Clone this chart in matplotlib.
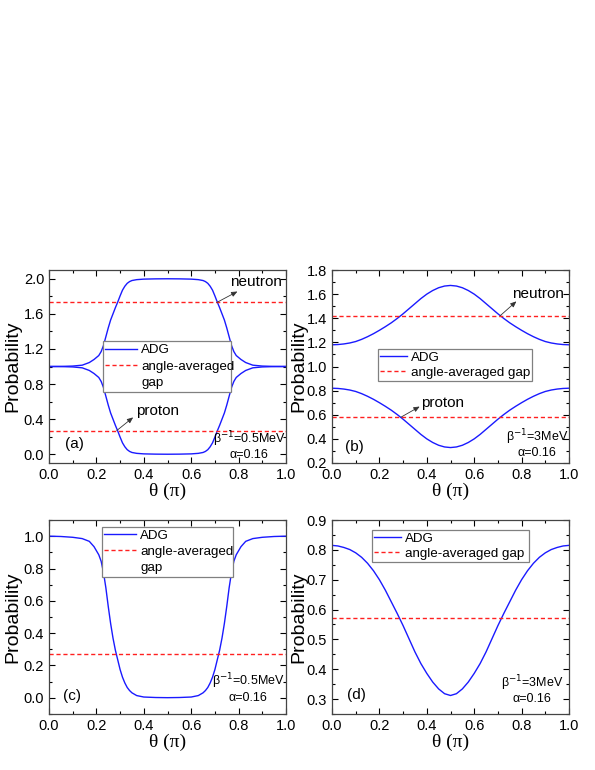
import matplotlib
matplotlib.use('Agg')
import matplotlib.pyplot as plt
from matplotlib.lines import Line2D
from matplotlib.ticker import MultipleLocator

plt.rcParams['font.family'] = ['Liberation Sans', 'DejaVu Sans']

# theta grid (units of pi) for the low temperature panels (a) and (c)
theta_ac = [0.00, 0.05, 0.10, 0.14, 0.17, 0.19, 0.21, 0.22, 0.23, 0.24, 0.25, 0.26,
            0.27, 0.28, 0.29, 0.30, 0.31, 0.32, 0.33, 0.34, 0.35, 0.37, 0.40, 0.45,
            0.50, 0.55, 0.60, 0.63, 0.65, 0.66, 0.67, 0.68, 0.69, 0.70, 0.71, 0.72,
            0.73, 0.74, 0.75, 0.76, 0.77, 0.78, 0.79, 0.81, 0.83, 0.86, 0.90, 0.95, 1.00]

neutron_a = [1.000, 1.001, 1.005, 1.015, 1.045, 1.080, 1.125, 1.170, 1.240, 1.340, 1.440, 1.530,
             1.600, 1.670, 1.735, 1.805, 1.870, 1.915, 1.948, 1.968, 1.980, 1.990, 1.996, 1.999,
             2.000, 1.999, 1.996, 1.990, 1.980, 1.968, 1.948, 1.915, 1.870, 1.805, 1.735, 1.670,
             1.600, 1.530, 1.440, 1.340, 1.240, 1.170, 1.125, 1.080, 1.045, 1.015, 1.005, 1.001, 1.000]
proton_a = [1.000, 0.999, 0.995, 0.985, 0.955, 0.920, 0.875, 0.830, 0.760, 0.660, 0.560, 0.470,
            0.400, 0.330, 0.265, 0.195, 0.130, 0.085, 0.052, 0.032, 0.020, 0.010, 0.004, 0.001,
            0.000, 0.001, 0.004, 0.010, 0.020, 0.032, 0.052, 0.085, 0.130, 0.195, 0.265, 0.330,
            0.400, 0.470, 0.560, 0.660, 0.760, 0.830, 0.875, 0.920, 0.955, 0.985, 0.995, 0.999, 1.000]
curve_c = [1.000, 0.998, 0.993, 0.985, 0.968, 0.935, 0.885, 0.845, 0.775, 0.680, 0.565, 0.460,
           0.370, 0.295, 0.235, 0.175, 0.128, 0.092, 0.064, 0.045, 0.031, 0.014, 0.005, 0.002,
           0.001, 0.002, 0.005, 0.014, 0.031, 0.045, 0.064, 0.092, 0.128, 0.175, 0.235, 0.295,
           0.370, 0.460, 0.565, 0.680, 0.775, 0.845, 0.885, 0.935, 0.968, 0.985, 0.993, 0.998, 1.000]

# theta grid for the high temperature panels (b) and (d)
theta_bd = [0.000, 0.025, 0.050, 0.075, 0.100, 0.125, 0.150, 0.175, 0.200, 0.225, 0.250,
            0.275, 0.300, 0.325, 0.350, 0.375, 0.400, 0.425, 0.450, 0.475, 0.500,
            0.525, 0.550, 0.575, 0.600, 0.625, 0.650, 0.675, 0.700, 0.725, 0.750,
            0.775, 0.800, 0.825, 0.850, 0.875, 0.900, 0.925, 0.950, 0.975, 1.000]

neutron_b = [1.180, 1.182, 1.187, 1.195, 1.207, 1.225, 1.247, 1.272, 1.300, 1.330, 1.362,
             1.398, 1.437, 1.479, 1.521, 1.563, 1.600, 1.630, 1.653, 1.667, 1.672,
             1.667, 1.653, 1.630, 1.600, 1.563, 1.521, 1.479, 1.437, 1.398, 1.362,
             1.330, 1.300, 1.272, 1.247, 1.225, 1.207, 1.195, 1.187, 1.182, 1.180]
proton_b = [0.820, 0.818, 0.813, 0.805, 0.793, 0.775, 0.753, 0.728, 0.700, 0.670, 0.638,
            0.602, 0.563, 0.521, 0.479, 0.437, 0.400, 0.370, 0.347, 0.333, 0.328,
            0.333, 0.347, 0.370, 0.400, 0.437, 0.479, 0.521, 0.563, 0.602, 0.638,
            0.670, 0.700, 0.728, 0.753, 0.775, 0.793, 0.805, 0.813, 0.818, 0.820]
curve_d = [0.815, 0.813, 0.808, 0.801, 0.790, 0.775, 0.755, 0.730, 0.700, 0.665, 0.626,
           0.587, 0.546, 0.502, 0.458, 0.419, 0.386, 0.357, 0.334, 0.318, 0.312,
           0.318, 0.334, 0.357, 0.386, 0.419, 0.458, 0.502, 0.546, 0.587, 0.626,
           0.665, 0.700, 0.730, 0.755, 0.775, 0.790, 0.801, 0.808, 0.813, 0.815]

# angle-averaged gap values
avg_a = [1.73, 0.27]
avg_b = [1.42, 0.58]
avg_c = 0.272
avg_d = 0.57

blue = '#1a1aff'
red = '#ff2020'
dash = (0, (3, 2))

fig = plt.figure(figsize=(5.95, 7.7), dpi=100)
W = 237 / 595
ax_a = fig.add_axes([49 / 595, 1 - 463 / 770, W, 193 / 770])
ax_b = fig.add_axes([332 / 595, 1 - 463 / 770, W, 193 / 770])
ax_c = fig.add_axes([49 / 595, 1 - 714 / 770, W, 194 / 770])
ax_d = fig.add_axes([332 / 595, 1 - 714 / 770, W, 194 / 770])


def style(ax, ylim, major, minor, ylab_x):
    ax.set_xlim(0, 1)
    ax.set_ylim(*ylim)
    ax.xaxis.set_major_locator(MultipleLocator(0.2))
    ax.xaxis.set_minor_locator(MultipleLocator(0.1))
    ax.yaxis.set_major_locator(MultipleLocator(major))
    ax.yaxis.set_minor_locator(MultipleLocator(minor))
    ax.tick_params(which='both', direction='in', top=True, right=True, labelsize=10.5)
    ax.tick_params(which='major', length=4, width=0.8)
    ax.tick_params(which='minor', length=2, width=0.8)
    for s in ax.spines.values():
        s.set_linewidth(0.9)
        s.set_color('#444444')
    ax.set_xlabel('θ (π)', fontsize=14, family=['Liberation Serif', 'DejaVu Serif'])
    ax.xaxis.set_label_coords(0.5, -0.1)
    ax.set_ylabel('Probability', fontsize=14)
    ax.yaxis.set_label_coords(ylab_x, 0.5)


def legend(ax, box, two_line):
    h = [Line2D([], [], color=blue, lw=1),
         Line2D([], [], color=red, lw=1, ls=dash)]
    if two_line:
        h.append(Line2D([], [], ls='none'))
        labels = ['ADG', 'angle-averaged', 'gap']
        hl, sp = 2.4, 0.3
    else:
        labels = ['ADG', 'angle-averaged gap']
        hl, sp = 2.0, 0.2
    leg = ax.legend(h, labels, loc='upper left', bbox_to_anchor=box, mode='expand',
                    fontsize=9.6, handlelength=hl, handletextpad=0.3, labelspacing=sp,
                    borderpad=0.2, borderaxespad=0, fancybox=False, framealpha=1,
                    edgecolor='#808080')
    leg.get_frame().set_linewidth(0.9)


def params(ax, x, y1, y2, beta):
    ax.text(x, y1, 'β$^{-1}$=' + beta, transform=ax.transAxes, ha='center', va='center', fontsize=9)
    ax.text(x, y2, 'α=0.16', transform=ax.transAxes, ha='center', va='center', fontsize=9)


def arrow(ax, start, end):
    ax.annotate('', xy=end, xytext=start,
                arrowprops=dict(arrowstyle='-|>,head_length=0.35,head_width=0.15',
                                color='#333333', lw=0.6, shrinkA=0, shrinkB=0))


# (a)
ax_a.plot(theta_ac, neutron_a, color=blue, lw=1)
ax_a.plot(theta_ac, proton_a, color=blue, lw=1)
for v in avg_a:
    ax_a.axhline(v, color=red, lw=1, ls=dash)
style(ax_a, (-0.1, 2.1), 0.4, 0.2, -0.115)
legend(ax_a, (0.227, 0.63, 0.541, 0.0), True)
ax_a.text(0.765, 1.96, 'neutron', fontsize=11, va='center')
arrow(ax_a, (0.708, 1.73), (0.795, 1.855))
ax_a.text(0.367, 0.49, 'proton', fontsize=11, va='center')
arrow(ax_a, (0.286, 0.27), (0.355, 0.42))
ax_a.text(0.068, 0.10, '(a)', transform=ax_a.transAxes, fontsize=11, va='center')
params(ax_a, 0.845, 0.125, 0.04, '0.5MeV')

# (b)
ax_b.plot(theta_bd, neutron_b, color=blue, lw=1)
ax_b.plot(theta_bd, proton_b, color=blue, lw=1)
for v in avg_b:
    ax_b.axhline(v, color=red, lw=1, ls=dash)
style(ax_b, (0.2, 1.8), 0.2, 0.1, -0.105)
legend(ax_b, (0.193, 0.592, 0.652, 0.0), False)
ax_b.text(0.758, 1.60, 'neutron', fontsize=11, va='center')
arrow(ax_b, (0.709, 1.42), (0.778, 1.54))
ax_b.text(0.376, 0.70, 'proton', fontsize=11, va='center')
arrow(ax_b, (0.291, 0.58), (0.37, 0.668))
ax_b.text(0.055, 0.085, '(b)', transform=ax_b.transAxes, fontsize=11, va='center')
params(ax_b, 0.865, 0.135, 0.05, '3MeV')

# (c)
ax_c.plot(theta_ac, curve_c, color=blue, lw=1)
ax_c.axhline(avg_c, color=red, lw=1, ls=dash)
style(ax_c, (-0.1, 1.1), 0.2, 0.1, -0.115)
legend(ax_c, (0.222, 0.966, 0.556, 0.0), True)
ax_c.text(0.06, 0.093, '(c)', transform=ax_c.transAxes, fontsize=11, va='center')
params(ax_c, 0.84, 0.168, 0.085, '0.5MeV')

# (d)
ax_d.plot(theta_bd, curve_d, color=blue, lw=1)
ax_d.axhline(avg_d, color=red, lw=1, ls=dash)
style(ax_d, (0.25, 0.9), 0.1, 0.05, -0.105)
legend(ax_d, (0.167, 0.95, 0.664, 0.0), False)
ax_d.text(0.062, 0.10, '(d)', transform=ax_d.transAxes, fontsize=11, va='center')
params(ax_d, 0.843, 0.158, 0.075, '3MeV')

fig.savefig('out.png', dpi=100)
